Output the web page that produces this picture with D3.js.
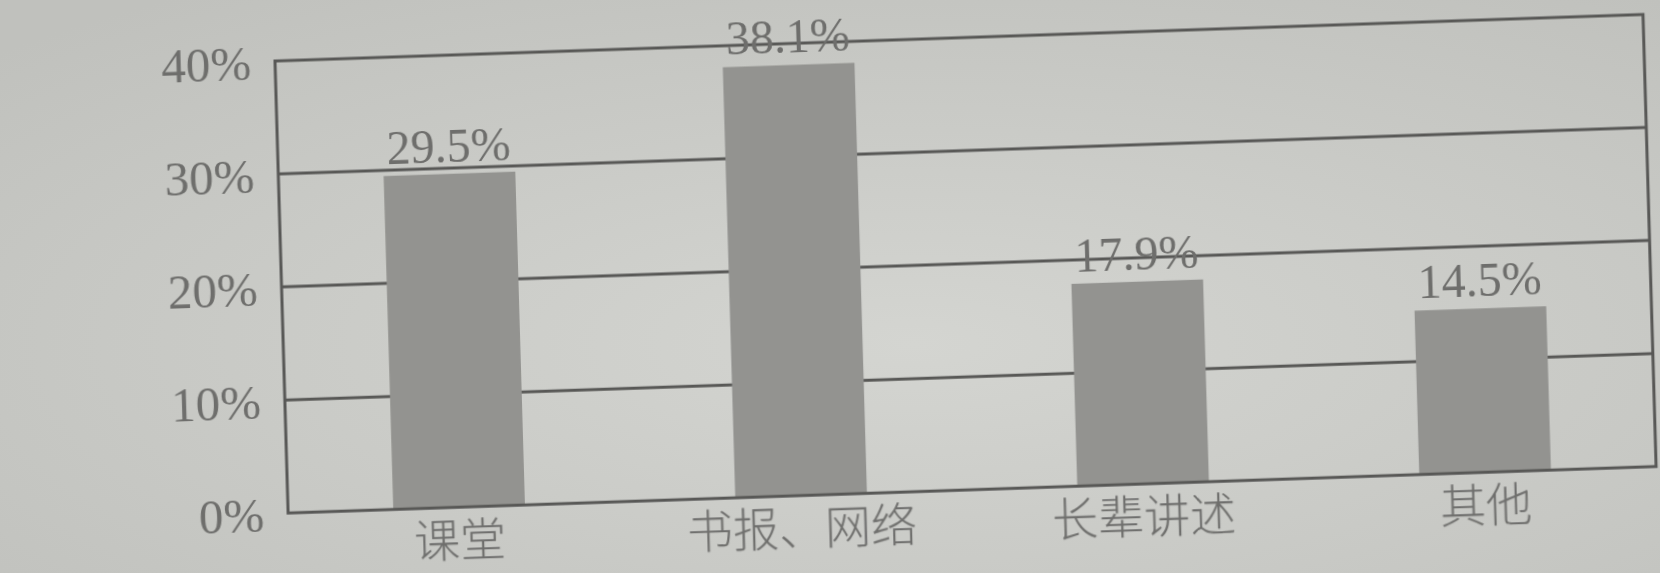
<!DOCTYPE html>
<html>
<head>
<meta charset="utf-8">
<script src="https://cdn.jsdelivr.net/npm/d3@7"></script>
<style>
  html, body { margin: 0; padding: 0; background: #c9cac6; overflow: hidden; }
  svg { display: block; }
</style>
</head>
<body>
<svg id="chart" width="1660" height="573"></svg>
<script>
// ---- data ----
const categories = ["课堂", "书报、网络", "长辈讲述", "其他"];
const values = [29.5, 38.1, 17.9, 14.5];
const yTicks = [0, 10, 20, 30, 40];
const yTickLabels = ["0%", "10%", "20%", "30%", "40%"];
const valueLabels = ["29.5%", "38.1%", "17.9%", "14.5%"];

// ---- layout ----
const W = 1368, H = 452;
const svg = d3.select("#chart");

// background (photo-like paper gradient)
const defs = svg.append("defs");
const grad = defs.append("radialGradient").attr("id", "paper")
  .attr("cx", "55%").attr("cy", "60%").attr("r", "75%");
grad.append("stop").attr("offset", "0%").attr("stop-color", "#d4d5d1");
grad.append("stop").attr("offset", "100%").attr("stop-color", "#c0c1bd");
defs.append("filter").attr("id", "soft")
  .append("feGaussianBlur").attr("stdDeviation", 0.7);

svg.append("rect").attr("width", 1660).attr("height", 573).attr("fill", "url(#paper)");

// skewed plot group (photo perspective)
const g = svg.append("g")
  .attr("transform", "matrix(1,-0.034,0.029,1,275,61)")
  .attr("filter", "url(#soft)");

const x = d3.scaleBand().domain(categories).range([0, W])
  .paddingInner(0.615).paddingOuter(0.3075);
const y = d3.scaleLinear().domain([0, 40]).range([H, 0]);

const lineColor = "#585857";
const textColor = "#6e6e6c";

// gridlines
g.selectAll("line.grid").data(yTicks.filter(t => t > 0 && t < 40))
  .join("line").attr("class", "grid")
  .attr("x1", 0).attr("x2", W)
  .attr("y1", d => y(d)).attr("y2", d => y(d))
  .attr("stroke", lineColor).attr("stroke-width", 3);

// bars
g.selectAll("rect.bar").data(values).join("rect").attr("class", "bar")
  .attr("x", (d, i) => x(categories[i]))
  .attr("width", x.bandwidth())
  .attr("y", d => y(d))
  .attr("height", d => H - y(d))
  .attr("fill", "#939390");

// frame
g.append("rect").attr("x", 0).attr("y", 0).attr("width", W).attr("height", H)
  .attr("fill", "none").attr("stroke", lineColor).attr("stroke-width", 3);

// y axis labels
const yAxis = d3.axisLeft(y).tickValues(yTicks)
  .tickFormat((d, i) => yTickLabels[i]).tickSize(0).tickPadding(24);
const ya = g.append("g").call(yAxis);
ya.select(".domain").remove();
ya.selectAll("text")
  .attr("font-family", "'Liberation Serif', 'DejaVu Serif', serif")
  .attr("font-size", 49).attr("fill", textColor).attr("dy", "0.36em");

// x axis labels
const xAxis = d3.axisBottom(x).tickSize(0).tickPadding(0);
const xa = g.append("g").attr("transform", `translate(0,${H})`).call(xAxis);
xa.select(".domain").remove();
xa.selectAll("text")
  .attr("font-family", "'Noto Sans CJK SC', sans-serif")
  .attr("font-weight", 300)
  .attr("font-size", 46).attr("fill", textColor)
  .attr("dy", null).attr("y", 49);

// value labels
g.selectAll("text.val").data(values).join("text").attr("class", "val")
  .attr("x", (d, i) => x(categories[i]) + x.bandwidth() / 2)
  .attr("y", d => y(d) - 12)
  .attr("text-anchor", "middle")
  .attr("font-family", "'Liberation Serif', 'DejaVu Serif', serif")
  .attr("font-size", 48).attr("fill", textColor)
  .text((d, i) => valueLabels[i]);
</script>
</body>
</html>
